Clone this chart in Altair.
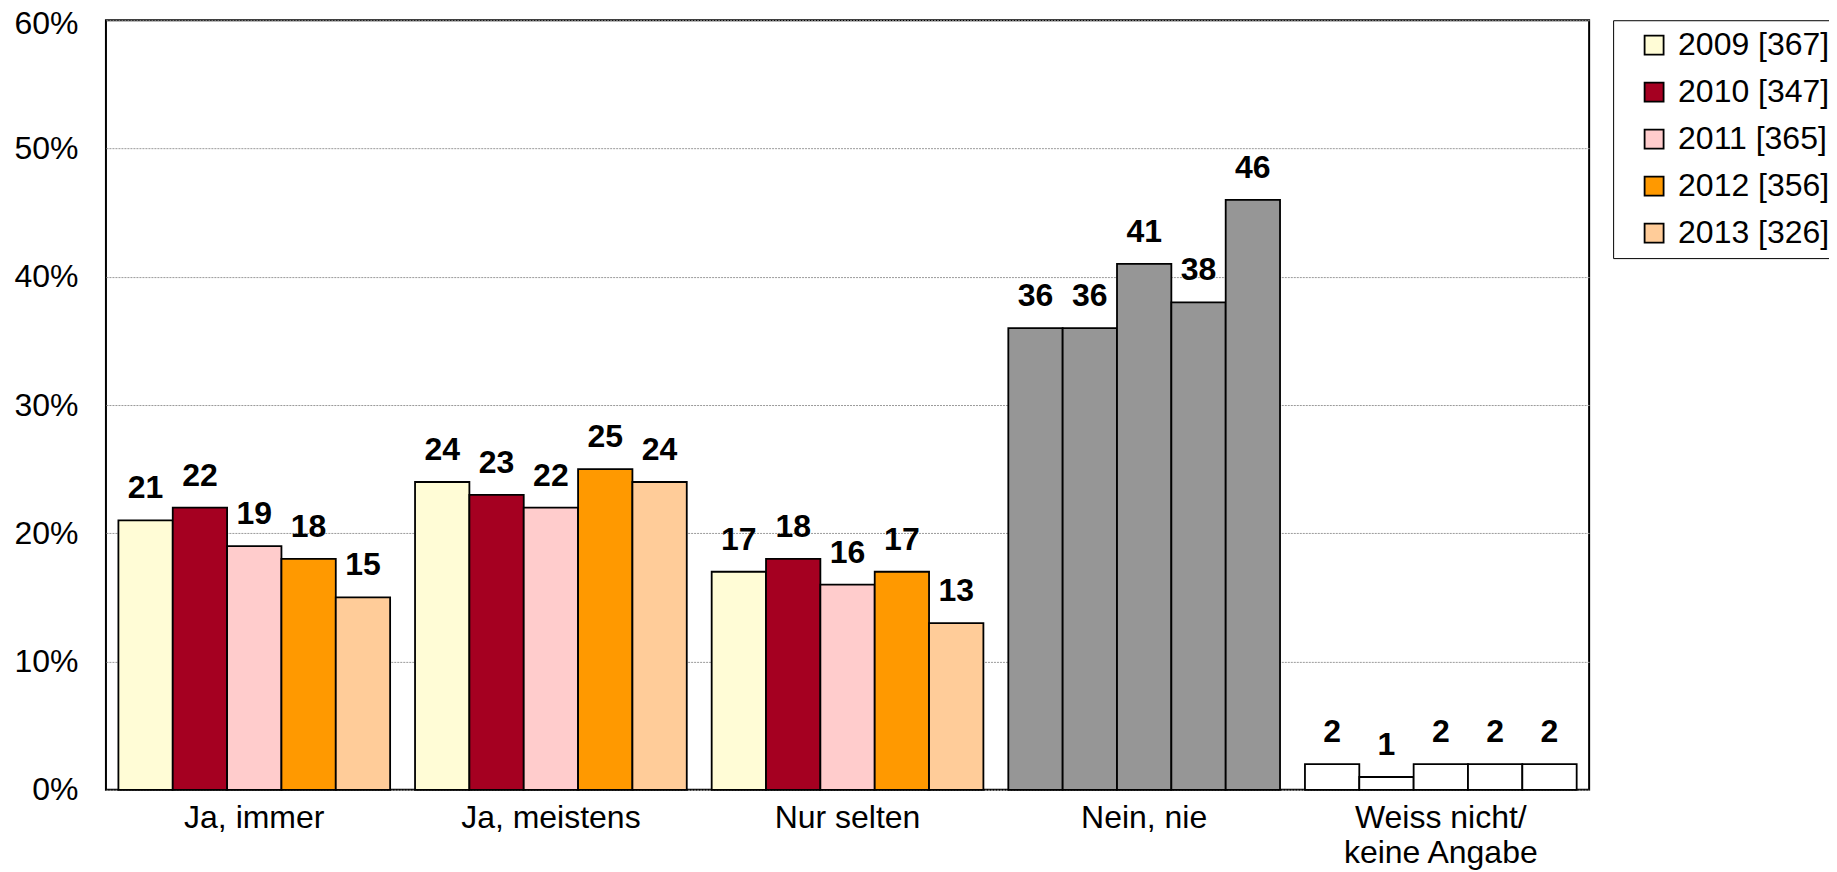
import altair as alt
import pandas as pd

categories = ["Ja, immer", "Ja, meistens", "Nur selten", "Nein, nie", "Weiss nicht/|keine Angabe"]
years = ["2009 [367]", "2010 [347]", "2011 [365]", "2012 [356]", "2013 [326]"]
v2009 = [21, 24, 17, 36, 2]
v2010 = [22, 23, 18, 36, 1]
v2011 = [19, 22, 16, 41, 2]
v2012 = [18, 25, 17, 38, 2]
v2013 = [15, 24, 13, 46, 2]
year_colors = ["#FFFCD6", "#A50021", "#FFCCCC", "#FF9900", "#FFCC99"]
special_categories = ["Nein, nie", "Weiss nicht/|keine Angabe"]
special_colors = ["#969696", "#FFFFFF"]
y_ticks = [0, 10, 20, 30, 40, 50, 60]

series = [v2009, v2010, v2011, v2012, v2013]
rows = []
for yi, yr in enumerate(years):
    for ci, cat in enumerate(categories):
        special = cat in special_categories
        rows.append({
            "cat": cat,
            "year": yr,
            "value": series[yi][ci],
            "special": special,
            "fillc": special_colors[special_categories.index(cat)] if special else year_colors[yi],
        })
df = pd.DataFrame(rows)

FONT = "Liberation Sans"

x_enc = alt.X(
    "cat:N", sort=categories, title=None,
    scale=alt.Scale(paddingInner=0.084, paddingOuter=0.042),
    axis=alt.Axis(labelExpr="split(datum.label, '|')", labelAngle=0, labelFontSize=32,
                  labelLineHeight=35, labelPadding=13, labelLimit=500, ticks=False,
                  domain=False, labelColor="black", labelFont=FONT),
)
xo_enc = alt.XOffset("year:N", sort=years, scale=alt.Scale(paddingInner=0, paddingOuter=0))
y_enc = alt.Y(
    "value:Q", title=None,
    scale=alt.Scale(domain=[0, 60], nice=False),
    axis=alt.Axis(values=y_ticks, labelExpr="datum.value + '%'", labelFontSize=32,
                  labelPadding=28, ticks=False, domain=False, grid=True,
                  labelOffset={"condition": {"test": "datum.value == 60", "value": 3}, "value": 0},
                  gridColor="#9a9a9a", gridDash=[2, 1], gridWidth=1,
                  labelColor="black", labelFont=FONT),
)

base = alt.Chart(df).encode(x=x_enc, xOffset=xo_enc, y=y_enc)

bars_year = base.transform_filter("!datum.special").mark_bar(
    stroke="black", strokeWidth=1.8
).encode(
    fill=alt.Fill("year:N", sort=years,
                  scale=alt.Scale(domain=years, range=year_colors),
                  legend=alt.Legend(title=None, orient="none", legendX=1508, legendY=0,
                                    symbolType="square", symbolSize=361,
                                    symbolStrokeColor="black", symbolStrokeWidth=1.8,
                                    symbolOffset=16,
                                    labelFontSize=32, labelFont=FONT, labelColor="black",
                                    rowPadding=15, padding=9,
                                    strokeColor="black", labelOffset=8))
)

bars_special = base.transform_filter("datum.special").mark_bar(
    stroke="black", strokeWidth=1.8
).encode(fill=alt.Fill("fillc:N", scale=None))

labels = base.mark_text(
    font=FONT, fontWeight="bold", fontSize=32, baseline="alphabetic", dy=-22, color="black"
).encode(text=alt.Text("value:Q"))

chart = alt.layer(bars_year, bars_special, labels).properties(
    width=1484, height=770,
    autosize=alt.AutoSizeParams(type="none"),
    padding={"left": 98, "top": 12, "right": 240, "bottom": 80},
).configure(font=FONT).configure_view(stroke="black", strokeWidth=2)

chart.save("out.html", embed_options={"renderer": "svg", "actions": False})
